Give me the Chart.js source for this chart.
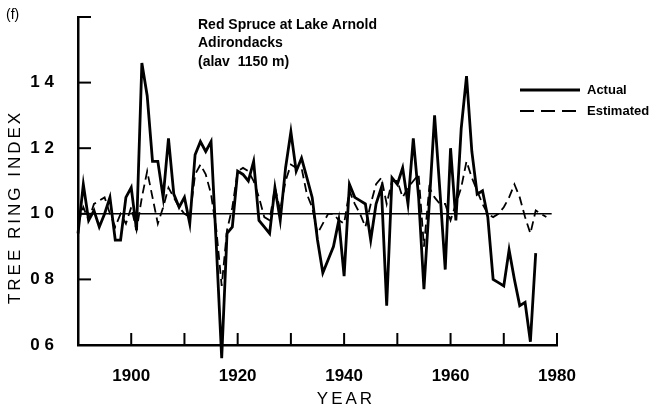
<!DOCTYPE html>
<html>
<head>
<meta charset="utf-8">
<script src="https://cdn.jsdelivr.net/npm/chart.js@4.4.0/dist/chart.umd.min.js"></script>
<style>
  html, body { margin: 0; padding: 0; background: #fff; }
  #wrap { width: 660px; height: 413px; }
</style>
</head>
<body>
<div id="wrap"><canvas id="chart" width="660" height="413"></canvas></div>
<script>
// tree ring index
const actualYears = [1890, 1891, 1892, 1893, 1894, 1895, 1896, 1897, 1898, 1899,
  1900, 1901, 1902, 1903, 1904, 1905, 1906, 1907, 1908, 1909,
  1910, 1911, 1912, 1913, 1914, 1915, 1916, 1917, 1918, 1919,
  1920, 1921, 1922, 1923, 1924, 1925, 1926, 1927, 1928, 1929,
  1930, 1931, 1932, 1933, 1934, 1935, 1936, 1937, 1938, 1939,
  1940, 1941, 1942, 1943, 1944, 1945, 1946, 1947, 1948, 1949,
  1950, 1951, 1952, 1953, 1954, 1955, 1956, 1957, 1958, 1959,
  1960, 1961, 1962, 1963, 1964, 1965, 1966, 1967, 1968, 1969,
  1970, 1971, 1972, 1973, 1974, 1975, 1976];
const actual = [0.94, 1.09, 0.98, 1.01, 0.96, 1.00, 1.05, 0.92, 0.92, 1.05,
  1.08, 0.95, 1.46, 1.36, 1.16, 1.16, 1.05, 1.23, 1.06, 1.02,
  1.05, 0.97, 1.18, 1.22, 1.19, 1.22, 0.90, 0.56, 0.94, 0.96,
  1.13, 1.12, 1.10, 1.16, 0.98, 0.96, 0.94, 1.08, 0.98, 1.14,
  1.25, 1.13, 1.17, 1.11, 1.05, 0.92, 0.82, 0.86, 0.90, 0.98,
  0.81, 1.09, 1.05, 1.04, 1.03, 0.92, 1.03, 1.08, 0.72, 1.11,
  1.09, 1.14, 1.03, 1.23, 1.05, 0.77, 1.03, 1.30, 1.07, 0.83,
  1.20, 0.98, 1.26, 1.42, 1.19, 1.06, 1.07, 0.99, 0.80, 0.79,
  0.78, 0.89, 0.80, 0.72, 0.73, 0.61, 0.88];

const estYears = [1890, 1891, 1892, 1893, 1894, 1895, 1896, 1897, 1898, 1899,
  1900, 1901, 1902, 1903, 1904, 1905, 1906, 1907, 1908, 1909,
  1910, 1911, 1912, 1913, 1914, 1915, 1916, 1917, 1918, 1919,
  1920, 1921, 1922, 1923, 1924, 1925, 1926, 1927, 1928, 1929,
  1930, 1931, 1932, 1933, 1934, 1935, 1936, 1937, 1938, 1939,
  1940, 1941, 1942, 1943, 1944, 1945, 1946, 1947, 1948, 1949,
  1950, 1951, 1952, 1953, 1954, 1955, 1956, 1957, 1958, 1959,
  1960, 1961, 1962, 1963, 1964, 1965, 1966, 1967, 1968, 1969,
  1970, 1971, 1972, 1973, 1974, 1975, 1976, 1977, 1978];
const estimated = [0.97, 1.02, 0.98, 1.03, 1.04, 1.05, 1.00, 0.96, 1.00, 0.97,
  1.02, 0.95, 1.05, 1.13, 1.05, 0.97, 1.02, 1.08, 1.05, 1.02,
  1.00, 0.99, 1.12, 1.15, 1.12, 1.06, 0.95, 0.78, 0.95, 1.02,
  1.13, 1.14, 1.13, 1.10, 1.05, 0.99, 0.98, 1.08, 1.01, 1.10,
  1.15, 1.14, 1.14, 1.06, 1.02, 0.94, 0.97, 1.00, 1.00, 0.98,
  0.97, 1.07, 1.03, 1.00, 0.96, 1.03, 1.09, 1.11, 1.03, 1.10,
  1.10, 1.05, 1.08, 1.10, 1.12, 0.90, 1.08, 1.05, 1.03, 1.03,
  0.98, 1.03, 1.08, 1.16, 1.11, 1.07, 1.03, 1.00, 0.99, 1.00,
  1.02, 1.05, 1.09, 1.05, 0.99, 0.94, 1.01, 1.00, 0.99];

// reference line at index 1.0
const refYears = [1890, 1979];
const refValue = 1.0;

const xTicks = [1900, 1910, 1920, 1930, 1940, 1950, 1960, 1970, 1980];
const xLabels = [1900, 1920, 1940, 1960, 1980];
const yTicks = [0.6, 0.8, 1.0, 1.2, 1.4, 1.6];
const yLabels = ['0 6', '0 8', '1 0', '1 2', '1 4', ''];

const FONT = '"Liberation Sans", Arial, sans-serif';

const decor = {
  id: 'decor',
  afterDraw(chart) {
    const { ctx, chartArea: a, scales: { x, y } } = chart;
    ctx.save();
    ctx.strokeStyle = '#000';
    ctx.fillStyle = '#000';
    ctx.lineWidth = 2;
    ctx.lineCap = 'butt';
    // inward tick marks
    xTicks.forEach(v => {
      const px = x.getPixelForValue(v);
      ctx.beginPath();
      ctx.moveTo(px, a.bottom);
      ctx.lineTo(px, a.bottom - 12);
      ctx.stroke();
    });
    yTicks.slice(1).forEach(v => {
      const py = y.getPixelForValue(v);
      ctx.beginPath();
      ctx.moveTo(a.left, py);
      ctx.lineTo(a.left + 13, py);
      ctx.stroke();
    });

    // panel letter and site caption
    ctx.textBaseline = 'alphabetic';
    ctx.textAlign = 'left';
    ctx.font = '14px ' + FONT;
    ctx.fillText('(f)', 6, 19);
    ctx.font = 'bold 14px ' + FONT;
    ctx.fillText('Red Spruce at Lake Arnold', 198, 29);
    ctx.fillText('Adirondacks', 198, 47);
    ctx.fillText('(alav  1150 m)', 198, 66);

    // legend
    ctx.lineWidth = 3;
    ctx.beginPath(); ctx.moveTo(520, 90); ctx.lineTo(580, 90); ctx.stroke();
    ctx.lineWidth = 2;
    ctx.setLineDash([14, 7]);
    ctx.beginPath(); ctx.moveTo(520, 111); ctx.lineTo(580, 111); ctx.stroke();
    ctx.setLineDash([]);
    ctx.textBaseline = 'middle';
    ctx.font = 'bold 13px ' + FONT;
    ctx.fillText('Actual', 587, 90);
    ctx.fillText('Estimated', 587, 111);

    // axis titles
    ctx.font = '17px ' + FONT;
    ctx.letterSpacing = '3px';
    ctx.textAlign = 'center';
    ctx.fillText('YEAR', 346, 399);
    ctx.translate(15, 207);
    ctx.rotate(-Math.PI / 2);
    ctx.fillText('TREE RING INDEX', 0, 0);
    ctx.restore();
  }
};

new Chart(document.getElementById('chart'), {
  type: 'line',
  data: {
    datasets: [
      {
        label: 'Actual',
        data: actualYears.map((yr, i) => ({ x: yr, y: actual[i] })),
        borderColor: '#000', borderWidth: 2.8, pointRadius: 0, tension: 0, fill: false, clip: false
      },
      {
        label: 'Estimated',
        data: estYears.map((yr, i) => ({ x: yr, y: estimated[i] })),
        borderColor: '#000', borderWidth: 1.8, borderDash: [9, 5], pointRadius: 0, tension: 0, fill: false
      },
      {
        label: 'ref',
        data: refYears.map(yr => ({ x: yr, y: refValue })),
        borderColor: '#000', borderWidth: 1.5, pointRadius: 0, fill: false
      }
    ]
  },
  options: {
    responsive: false,
    animation: false,
    layout: { padding: { left: 0, top: 17, right: 103, bottom: 0 } },
    plugins: { legend: { display: false }, tooltip: { enabled: false } },
    scales: {
      x: {
        type: 'linear', min: 1890, max: 1980,
        afterBuildTicks: s => { s.ticks = xTicks.map(v => ({ value: v })); },
        afterFit: s => { s.height = 68; s.paddingLeft = 0; s.paddingRight = 0; },
        grid: { display: false },
        border: { display: true, color: '#000', width: 2.5 },
        ticks: {
          autoSkip: false, maxRotation: 0, padding: 13, color: '#000',
          font: { family: FONT, size: 17, weight: 'bold' },
          callback: v => xLabels.includes(v) ? String(v) : ''
        }
      },
      y: {
        min: 0.6, max: 1.6,
        afterBuildTicks: s => { s.ticks = yTicks.map(v => ({ value: v })); },
        afterFit: s => { s.width = 78; s.paddingTop = 0; s.paddingBottom = 0; },
        grid: { display: false },
        border: { display: true, color: '#000', width: 2.5 },
        ticks: {
          padding: 16, color: '#000',
          font: { family: FONT, size: 17, weight: 'bold' },
          callback: (v, i) => yLabels[i]
        }
      }
    }
  },
  plugins: [decor]
});
</script>
</body>
</html>
